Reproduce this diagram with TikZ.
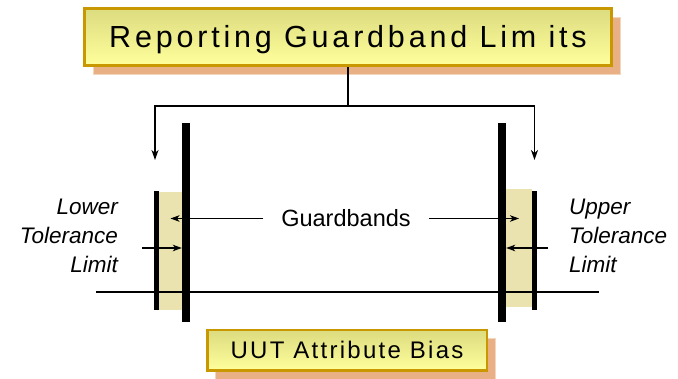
\documentclass[tikz,border=0pt]{standalone}
\usepackage{fontspec}
\setmainfont{Liberation Sans}
\newfontfamily\titlefont[LetterSpace=12.5]{Liberation Sans}
\newfontfamily\biasfont[LetterSpace=9.5]{Liberation Sans}
\usetikzlibrary{shadows,arrows.meta}

\definecolor{boxedge}{HTML}{C99700}
\definecolor{boxtop}{HTML}{DCDC80}
\definecolor{boxbottom}{HTML}{FFFF9C}
\definecolor{peach}{HTML}{E8B084}
\definecolor{peachedge}{HTML}{F3D6BC}
\definecolor{bandfill}{HTML}{EAE3B0}

\tikzset{
  banner/.style={draw=boxedge, top color=boxtop, bottom color=boxbottom,
    inner sep=0pt, text depth=0pt,
    drop shadow={shadow xshift=8.5pt, shadow yshift=-8.5pt, fill=peach,
      draw=peachedge, line width=0.8pt, opacity=1}},
  bar/.style={fill=black, draw=none, inner sep=0pt, minimum width=8pt},
  limitbar/.style={fill=black, draw=none, inner sep=0pt, minimum width=5pt},
  band/.style={fill=bandfill, draw=none, inner sep=0pt},
  conn/.style={line width=1.6pt},
  tip/.style={-{Stealth[length=10pt,width=7pt,inset=3pt]}},
  thinarrow/.style={line width=1.2pt, -{Stealth[length=9pt,width=6.5pt,inset=2.5pt]}},
  sidelabel/.style={font=\itshape\fontsize{22.5}{29}\selectfont, inner sep=0pt}
}

\begin{document}
\begin{tikzpicture}[x=1pt, y=-1pt]
\useasboundingbox (0,0) rectangle (678,379);

% headline banner
\node[banner, line width=3pt, minimum width=527pt, minimum height=57pt,
      text height=21.5pt, font=\titlefont\fontsize{30.5}{35}\selectfont]
  (title) at (348,37) {Reporting Guardband Lim its};

% bottom banner
\node[banner, line width=2.5pt, minimum width=279.5pt, minimum height=40.5pt,
      text height=17pt, font=\biasfont\fontsize{24}{28}\selectfont]
  (bias) at (347,350.5) {UUT Attribute Bias};

% guardband regions
\node[band, minimum width=23pt, minimum height=118pt] (lband) at (170.5,251) {};
\node[band, minimum width=26pt, minimum height=118pt] (rband) at (519,248) {};

% measurement axis
\coordinate (axisL) at (96,292);
\coordinate (axisR) at (599,292);
\draw[line width=1.5pt] (axisL) -- (axisR);

% tolerance limits (thin) and guardband limits (thick)
\node[limitbar, minimum height=119pt] (ltl) at (156.5,250.5) {};
\node[limitbar, minimum height=119pt] (utl) at (534.5,250.5) {};
\node[bar, minimum height=199pt] (lgl) at (186,222.5) {};
\node[bar, minimum height=199pt] (ugl) at (502,222.5) {};

% headline connectors
\coordinate (split) at (348,106);
\coordinate (ldrop) at (155,160);
\coordinate (rdrop) at (534.5,160);
\draw[conn] (title.south) -- (split);
\draw[conn, tip] (split) -| (ldrop);
\draw[conn, tip] (split) -| (rdrop);

% guardband label and arrows
\node[font=\fontsize{23.5}{28}\selectfont, text height=17pt, text depth=0pt,
      inner xsep=18pt, inner ysep=0pt] (gb) at (346,218.5) {Guardbands};
\draw[thinarrow] (gb.west) -- (gb.west -| lband.center);
\draw[thinarrow] (gb.east) -- (gb.east -| rband.center);

% tolerance labels and arrows
\node[sidelabel, align=right, anchor=east] (lower) at (118,236)
  {Lower\\Tolerance\\Limit};
\node[sidelabel, align=left, anchor=west] (upper) at (569,236)
  {Upper\\Tolerance\\Limit};
\coordinate (ltol) at (142,248);
\coordinate (utol) at (548,248);
\draw[thinarrow] (ltol) -- (ltol -| lgl.west);
\draw[thinarrow] (utol) -- (utol -| ugl.east);
\end{tikzpicture}
\end{document}
